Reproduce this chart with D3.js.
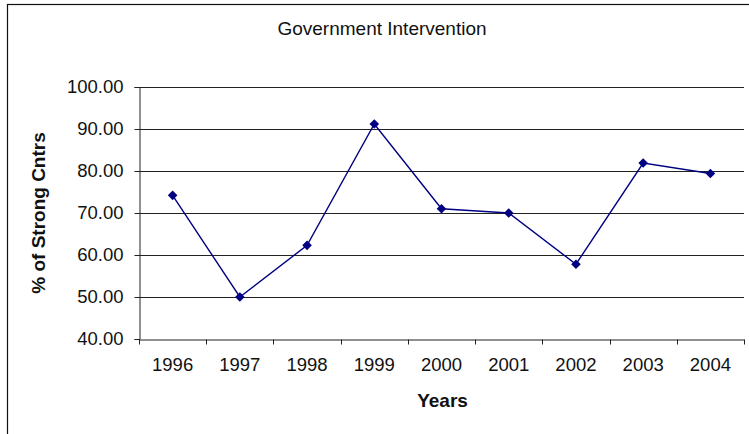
<!DOCTYPE html>
<html>
<head>
<meta charset="utf-8">
<script src="https://cdn.jsdelivr.net/npm/d3@7"></script>
<style>
  html, body { margin: 0; padding: 0; background: #fff; }
  svg { display: block; font-family: "Liberation Sans", Arial, sans-serif; }
</style>
</head>
<body>
<svg id="chart" width="749" height="434"></svg>
<script>
// Share of strong countries reporting government intervention, by year
const years = ["1996", "1997", "1998", "1999", "2000", "2001", "2002", "2003", "2004"];
const strongShare = [74.2, 50.0, 62.3, 91.2, 71.0, 70.0, 57.8, 81.9, 79.4];
const yTicks = [40, 50, 60, 70, 80, 90, 100];

const svg = d3.select("#chart");
const margin = { left: 139, right: 5, top: 87, bottom: 95 };
const W = 749, H = 434;

// outer chart frame (extends past the visible area)
svg.append("rect")
  .attr("x", 7.5).attr("y", 4.5)
  .attr("width", W + 20).attr("height", H + 20)
  .attr("fill", "#fff").attr("stroke", "#111").attr("stroke-width", 1.2);

const x = d3.scaleBand().domain(years)
  .range([margin.left, W - margin.right]).paddingInner(0).paddingOuter(0);
const y = d3.scaleLinear().domain([40, 100]).range([H - margin.bottom, margin.top]);

// horizontal gridlines
svg.append("g").selectAll("line").data(yTicks.filter(d => d > 40)).join("line")
  .attr("x1", margin.left).attr("x2", W - margin.right)
  .attr("y1", d => Math.round(y(d)) + 0.5).attr("y2", d => Math.round(y(d)) + 0.5)
  .attr("stroke", "#222").attr("stroke-width", 1);

// y axis
const yAxis = svg.append("g")
  .attr("transform", `translate(${margin.left + 0.5},0)`)
  .call(d3.axisLeft(y).tickValues(yTicks).tickFormat(d3.format(".2f")).tickSize(5).tickPadding(11));
yAxis.select(".domain").attr("stroke", "#222");
yAxis.selectAll(".tick line").attr("stroke", "#222");
yAxis.selectAll("text").attr("font-size", 18.5).attr("fill", "#111")
  .attr("font-family", "Liberation Sans, Arial, sans-serif");

// x axis, ticks on category boundaries
const xAxis = svg.append("g")
  .attr("transform", `translate(0,${Math.round(y(40)) + 0.5})`)
  .call(d3.axisBottom(x).tickSize(0).tickPadding(18));
xAxis.select(".domain").attr("stroke", "#222");
xAxis.selectAll("text").attr("font-size", 18.5).attr("fill", "#111")
  .attr("font-family", "Liberation Sans, Arial, sans-serif");
const bounds = years.map(d => x(d)).concat([x(years[years.length - 1]) + x.bandwidth()]);
xAxis.selectAll("line.bound").data(bounds).join("line").attr("class", "bound")
  .attr("x1", d => Math.round(d) + 0.5).attr("x2", d => Math.round(d) + 0.5)
  .attr("y1", 0).attr("y2", 5).attr("stroke", "#222");

// series line and diamond markers
const cx = d => x(d) + x.bandwidth() / 2;
const pts = years.map((d, i) => [cx(d), y(strongShare[i])]);
svg.append("path")
  .attr("d", d3.line()(pts))
  .attr("fill", "none").attr("stroke", "#000080").attr("stroke-width", 1.4);
svg.append("g").selectAll("path").data(pts).join("path")
  .attr("transform", d => `translate(${d[0]},${d[1]}) rotate(45)`)
  .attr("d", d3.symbol(d3.symbolSquare, 46)())
  .attr("fill", "#000080");

// titles
svg.append("text").attr("x", 382).attr("y", 35).attr("text-anchor", "middle")
  .attr("font-size", 19).attr("fill", "#111").text("Government Intervention");
svg.append("text").attr("x", (margin.left + W - margin.right) / 2 + 1).attr("y", 407)
  .attr("text-anchor", "middle").attr("font-size", 19).attr("font-weight", "bold")
  .attr("fill", "#111").text("Years");
svg.append("text")
  .attr("transform", `translate(45,${(y(40) + y(100)) / 2}) rotate(-90)`)
  .attr("text-anchor", "middle").attr("font-size", 19).attr("font-weight", "bold")
  .attr("fill", "#111").text("% of Strong Cntrs");
</script>
</body>
</html>
